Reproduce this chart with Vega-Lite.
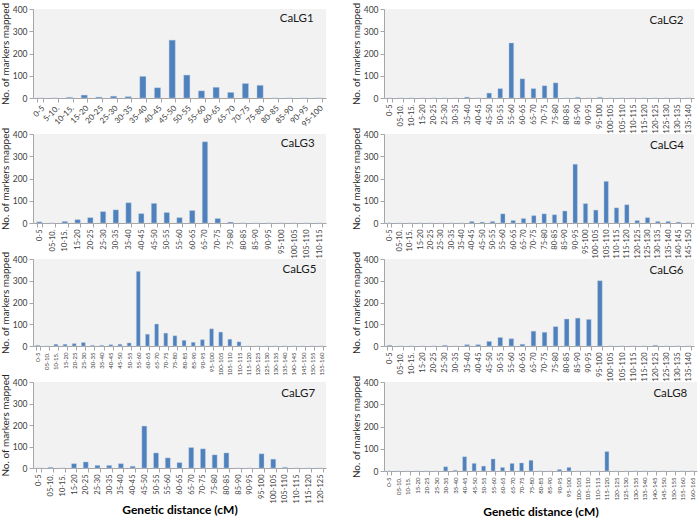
{
  "$schema": "https://vega.github.io/schema/vega-lite/v6.json",
  "padding": {"left": 0, "top": 2, "right": 2, "bottom": 0},
  "background": "white",
  "config": {
    "font": "Lato",
    "view": {"fill": "#f2f2f2", "stroke": null},
    "axis": {"domainColor": "#a6a6a6", "tickColor": "#a6a6a6", "labelColor": "#404040", "titleColor": "#262626", "grid": false, "labelFontSize": 8.5, "titleFontSize": 10, "titleFontWeight": "normal", "tickSize": 4, "labelPadding": 2},
    "axisX": {"tickBand": "extent", "labelAngle": -90, "labelFontSize": 7.5, "labelOverlap": false, "title": null},
    "axisY": {"titlePadding": 2, "values": [0, 100, 200, 300, 400]},
    "bar": {"color": "#4f81bd", "stroke": "#b8cce4", "strokeWidth": 0.4},
    "text": {"align": "right", "dx": -5, "fontSize": 11.5, "color": "#1a1a1a"}
  },
  "datasets": {
    "lg1": [{"b":"0-5","n":0},{"b":"5-10.","n":0},{"b":"10-15.","n":3},{"b":"15-20","n":13},{"b":"20-25","n":4},{"b":"25-30","n":8},{"b":"30-35","n":6},{"b":"35-40","n":97},{"b":"40-45","n":46},{"b":"45-50","n":260},{"b":"50-55","n":103},{"b":"55-60","n":32},{"b":"60-65","n":48},{"b":"65-70","n":25},{"b":"70-75","n":65},{"b":"75-80","n":57},{"b":"80-85","n":0},{"b":"85-90","n":0},{"b":"90-95","n":0},{"b":"95-100","n":0}],
    "lg2": [{"b":"0-5","n":0},{"b":"05-10.","n":0},{"b":"10-15.","n":0},{"b":"15-20","n":0},{"b":"20-25","n":0},{"b":"25-30","n":0},{"b":"30-35","n":0},{"b":"35-40","n":4},{"b":"40-45","n":0},{"b":"45-50","n":22},{"b":"50-55","n":42},{"b":"55-60","n":247},{"b":"60-65","n":86},{"b":"65-70","n":42},{"b":"70-75","n":55},{"b":"75-80","n":68},{"b":"80-85","n":0},{"b":"85-90","n":3},{"b":"90-95","n":0},{"b":"95-100","n":3},{"b":"100-105","n":0},{"b":"105-110","n":0},{"b":"110-115","n":0},{"b":"115-120","n":0},{"b":"120-125","n":0},{"b":"125-130","n":0},{"b":"130-135","n":0},{"b":"135-140","n":0}],
    "lg3": [{"b":"0-5","n":5},{"b":"05-10.","n":0},{"b":"10-15.","n":7},{"b":"15-20","n":15},{"b":"20-25","n":24},{"b":"25-30","n":51},{"b":"30-35","n":59},{"b":"35-40","n":91},{"b":"40-45","n":42},{"b":"45-50","n":88},{"b":"50-55","n":47},{"b":"55-60","n":24},{"b":"60-65","n":56},{"b":"65-70","n":365},{"b":"70-75","n":20},{"b":"75-80","n":4},{"b":"80-85","n":0},{"b":"85-90","n":0},{"b":"90-95","n":0},{"b":"95-100","n":0},{"b":"100-105","n":0},{"b":"105-110","n":0},{"b":"110-115","n":0}],
    "lg4": [{"b":"0-5","n":0},{"b":"05-10.","n":0},{"b":"10-15.","n":0},{"b":"15-20","n":0},{"b":"20-25","n":0},{"b":"25-30","n":0},{"b":"30-35","n":0},{"b":"35-40","n":0},{"b":"40-45","n":7},{"b":"45-50","n":4},{"b":"50-55","n":7},{"b":"55-60","n":41},{"b":"60-65","n":11},{"b":"65-70","n":20},{"b":"70-75","n":33},{"b":"75-80","n":41},{"b":"80-85","n":37},{"b":"85-90","n":54},{"b":"90-95","n":264},{"b":"95-100","n":87},{"b":"100-105","n":58},{"b":"105-110","n":187},{"b":"110-115","n":68},{"b":"115-120","n":82},{"b":"120-125","n":11},{"b":"125-130","n":24},{"b":"130-135","n":7},{"b":"135-140","n":7},{"b":"140-145","n":4},{"b":"145-150","n":0}],
    "lg5": [{"b":"0-5","n":3},{"b":"05-10.","n":0},{"b":"10-15.","n":8},{"b":"15-20","n":8},{"b":"20-25","n":11},{"b":"25-30","n":16},{"b":"30-35","n":3},{"b":"35-40","n":3},{"b":"40-45","n":6},{"b":"45-50","n":8},{"b":"50-55","n":14},{"b":"55-60","n":343},{"b":"60-65","n":54},{"b":"65-70","n":101},{"b":"70-75","n":59},{"b":"75-80","n":47},{"b":"80-85","n":26},{"b":"85-90","n":17},{"b":"90-95","n":29},{"b":"95-100","n":79},{"b":"100-105","n":64},{"b":"105-110","n":31},{"b":"110-115","n":19},{"b":"115-120","n":0},{"b":"120-125","n":0},{"b":"125-130","n":0},{"b":"130-135","n":0},{"b":"135-140","n":0},{"b":"140-145","n":0},{"b":"145-150","n":0},{"b":"150-155","n":0},{"b":"155-160","n":0}],
    "lg6": [{"b":"0-5","n":3},{"b":"05-10.","n":0},{"b":"10-15.","n":0},{"b":"15-20","n":0},{"b":"20-25","n":0},{"b":"25-30","n":3},{"b":"30-35","n":0},{"b":"35-40","n":6},{"b":"40-45","n":6},{"b":"45-50","n":21},{"b":"50-55","n":39},{"b":"55-60","n":33},{"b":"60-65","n":8},{"b":"65-70","n":68},{"b":"70-75","n":63},{"b":"75-80","n":89},{"b":"80-85","n":124},{"b":"85-90","n":128},{"b":"90-95","n":122},{"b":"95-100","n":300},{"b":"100-105","n":0},{"b":"105-110","n":0},{"b":"110-115","n":0},{"b":"115-120","n":0},{"b":"120-125","n":3},{"b":"125-130","n":0},{"b":"130-135","n":0},{"b":"135-140","n":0}],
    "lg7": [{"b":"0-5","n":0},{"b":"05-10.","n":3},{"b":"10-15.","n":0},{"b":"15-20","n":20},{"b":"20-25","n":28},{"b":"25-30","n":12},{"b":"30-35","n":12},{"b":"35-40","n":20},{"b":"40-45","n":8},{"b":"45-50","n":195},{"b":"50-55","n":70},{"b":"55-60","n":47},{"b":"60-65","n":25},{"b":"65-70","n":95},{"b":"70-75","n":89},{"b":"75-80","n":61},{"b":"80-85","n":70},{"b":"85-90","n":0},{"b":"90-95","n":0},{"b":"95-100","n":66},{"b":"100-105","n":41},{"b":"105-110","n":3},{"b":"110-115","n":0},{"b":"115-120","n":0},{"b":"120-125","n":0}],
    "lg8": [{"b":"0-5","n":0},{"b":"05-10.","n":0},{"b":"10-15.","n":0},{"b":"15-20","n":0},{"b":"20-25","n":0},{"b":"25-30","n":0},{"b":"30-35","n":19},{"b":"35-40","n":3},{"b":"40-45","n":64},{"b":"45-50","n":34},{"b":"50-55","n":22},{"b":"55-60","n":54},{"b":"60-65","n":16},{"b":"65-70","n":34},{"b":"70-75","n":36},{"b":"75-80","n":48},{"b":"80-85","n":0},{"b":"85-90","n":0},{"b":"90-95","n":7},{"b":"95-100","n":16},{"b":"100-105","n":0},{"b":"105-110","n":0},{"b":"110-115","n":0},{"b":"115-120","n":87},{"b":"120-125","n":0},{"b":"125-130","n":0},{"b":"130-135","n":0},{"b":"135-140","n":0},{"b":"140-145","n":0},{"b":"145-150","n":0},{"b":"150-155","n":0},{"b":"155-160","n":0},{"b":"160-165","n":0}]
  },
  "bounds": "flush",
  "align": "each",
  "columns": 2,
  "spacing": {"row": 36, "column": 58},
  "concat": [
    {"width": 293, "height": 89, "layer": [
      {"data": {"name": "lg1"}, "mark": "bar", "encoding": {"x": {"field": "b", "type": "nominal", "sort": null, "scale": {"paddingInner": 0.58, "paddingOuter": 0.29}, "axis": {"labelAngle": -45, "labelFontSize": 8}}, "y": {"field": "n", "type": "quantitative", "scale": {"domain": [0, 400]}, "axis": {"title": "No. of markers mapped"}}}},
      {"data": {"values": [{"t": "CaLG1"}]}, "mark": "text", "encoding": {"text": {"field": "t"}, "x": {"datum": "95-100", "type": "nominal"}, "y": {"datum": 355, "type": "quantitative"}}}
    ]},
    {"width": 310, "height": 89, "layer": [
      {"data": {"name": "lg2"}, "mark": "bar", "encoding": {"x": {"field": "b", "type": "nominal", "sort": null, "scale": {"paddingInner": 0.58, "paddingOuter": 0.29}}, "y": {"field": "n", "type": "quantitative", "scale": {"domain": [0, 400]}, "axis": {"title": "No. of markers mapped"}}}},
      {"data": {"values": [{"t": "CaLG2"}]}, "mark": "text", "encoding": {"text": {"field": "t"}, "x": {"datum": "135-140", "type": "nominal"}, "y": {"datum": 345, "type": "quantitative"}}}
    ]},
    {"width": 293, "height": 89, "layer": [
      {"data": {"name": "lg3"}, "mark": "bar", "encoding": {"x": {"field": "b", "type": "nominal", "sort": null, "scale": {"paddingInner": 0.58, "paddingOuter": 0.29}}, "y": {"field": "n", "type": "quantitative", "scale": {"domain": [0, 400]}, "axis": {"title": "No. of markers mapped"}}}},
      {"data": {"values": [{"t": "CaLG3"}]}, "mark": "text", "encoding": {"text": {"field": "t"}, "x": {"datum": "110-115", "type": "nominal"}, "y": {"datum": 355, "type": "quantitative"}}}
    ]},
    {"width": 310, "height": 89, "layer": [
      {"data": {"name": "lg4"}, "mark": "bar", "encoding": {"x": {"field": "b", "type": "nominal", "sort": null, "scale": {"paddingInner": 0.58, "paddingOuter": 0.29}}, "y": {"field": "n", "type": "quantitative", "scale": {"domain": [0, 400]}, "axis": {"title": "No. of markers mapped"}}}},
      {"data": {"values": [{"t": "CaLG4"}]}, "mark": "text", "encoding": {"text": {"field": "t"}, "x": {"datum": "145-150", "type": "nominal"}, "y": {"datum": 345, "type": "quantitative"}}}
    ]},
    {"width": 293, "height": 87, "layer": [
      {"data": {"name": "lg5"}, "mark": "bar", "encoding": {"x": {"field": "b", "type": "nominal", "sort": null, "scale": {"paddingInner": 0.58, "paddingOuter": 0.29}, "axis": {"labelFontSize": 6}}, "y": {"field": "n", "type": "quantitative", "scale": {"domain": [0, 400]}, "axis": {"title": "No. of markers mapped"}}}},
      {"data": {"values": [{"t": "CaLG5"}]}, "mark": "text", "encoding": {"text": {"field": "t"}, "x": {"datum": "155-160", "type": "nominal"}, "y": {"datum": 350, "type": "quantitative"}}}
    ]},
    {"width": 310, "height": 87, "layer": [
      {"data": {"name": "lg6"}, "mark": "bar", "encoding": {"x": {"field": "b", "type": "nominal", "sort": null, "scale": {"paddingInner": 0.58, "paddingOuter": 0.29}}, "y": {"field": "n", "type": "quantitative", "scale": {"domain": [0, 400]}, "axis": {"title": "No. of markers mapped"}}}},
      {"data": {"values": [{"t": "CaLG6"}]}, "mark": "text", "encoding": {"text": {"field": "t"}, "x": {"datum": "135-140", "type": "nominal"}, "y": {"datum": 345, "type": "quantitative"}}}
    ]},
    {"width": 293, "height": 86, "layer": [
      {"data": {"name": "lg7"}, "mark": "bar", "encoding": {"x": {"field": "b", "type": "nominal", "sort": null, "scale": {"paddingInner": 0.58, "paddingOuter": 0.29}, "axis": {"title": "Genetic distance (cM)", "titleFontSize": 12, "titleFontWeight": "bold", "titleColor": "#000000", "titlePadding": 2}}, "y": {"field": "n", "type": "quantitative", "scale": {"domain": [0, 400]}, "axis": {"title": "No. of markers mapped"}}}},
      {"data": {"values": [{"t": "CaLG7"}]}, "mark": "text", "encoding": {"text": {"field": "t"}, "x": {"datum": "120-125", "type": "nominal"}, "y": {"datum": 345, "type": "quantitative"}}}
    ]},
    {"width": 313, "height": 89, "layer": [
      {"data": {"name": "lg8"}, "mark": "bar", "encoding": {"x": {"field": "b", "type": "nominal", "sort": null, "scale": {"paddingInner": 0.58, "paddingOuter": 0.29}, "axis": {"labelFontSize": 6, "title": "Genetic distance (cM)", "titleFontSize": 12, "titleFontWeight": "bold", "titleColor": "#000000", "titlePadding": 6}}, "y": {"field": "n", "type": "quantitative", "scale": {"domain": [0, 400]}, "axis": {"title": "No. of markers mapped"}}}},
      {"data": {"values": [{"t": "CaLG8"}]}, "mark": "text", "encoding": {"text": {"field": "t"}, "x": {"datum": "160-165", "type": "nominal"}, "y": {"datum": 345, "type": "quantitative"}}}
    ]}
  ]
}
